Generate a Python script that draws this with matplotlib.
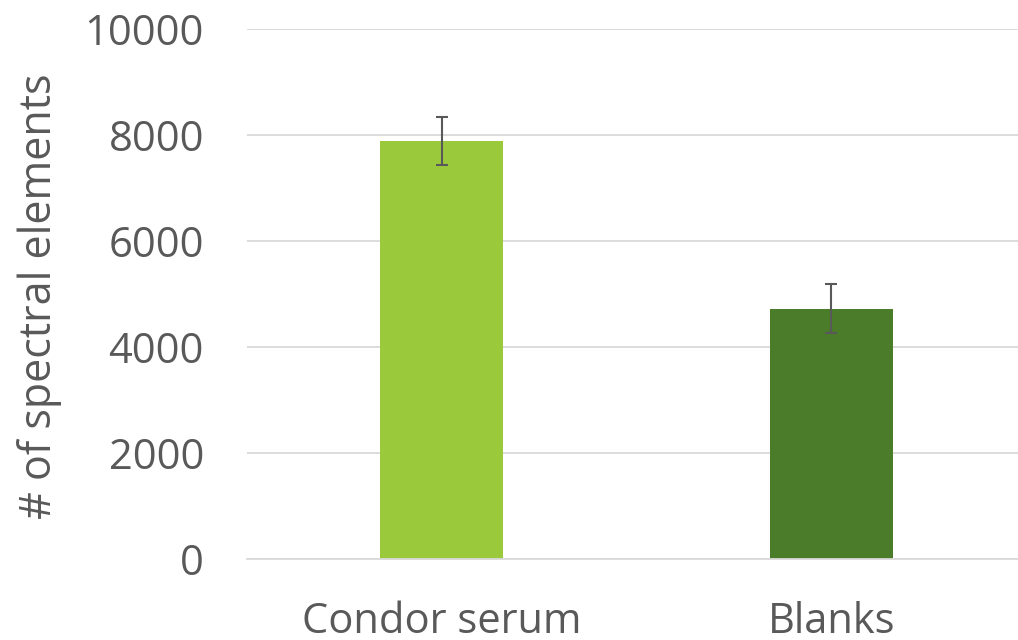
import matplotlib
matplotlib.use("Agg")
import matplotlib.pyplot as plt

categories = ["Condor serum", "Blanks"]
values = [7890, 4720]
errors = [455, 460]
colors = ["#9ACA3C", "#4A7C2A"]

plt.rcParams['font.family'] = ['Open Sans', 'DejaVu Sans']
text_color = "#595959"
grid_color = "#D9D9D9"

fig = plt.figure(figsize=(10.18, 6.4), dpi=100)
ax = fig.add_axes([247/1018, 81/640, 779/1018, 530/640])

x = list(range(len(categories)))
ax.bar(x, values, width=0.316, color=colors, zorder=2)
ax.errorbar(x, values, yerr=errors, fmt='none', ecolor="#595959",
            elinewidth=1.5, capsize=4.5, capthick=1.5, zorder=3)

ax.set_xlim(-0.5, 1.5)
ax.set_ylim(0, 10000)
ax.set_yticks(range(0, 10001, 2000))
ax.set_xticks(x)
ax.set_xticklabels(categories)
ax.yaxis.grid(True, color=grid_color, linewidth=1.3, zorder=0)
ax.set_axisbelow(True)

for s in ["top", "right", "left"]:
    ax.spines[s].set_visible(False)
ax.spines["bottom"].set_color(grid_color)
ax.spines["bottom"].set_linewidth(1.3)

ax.tick_params(axis='both', length=0, labelsize=30, labelcolor=text_color)
ax.tick_params(axis='y', pad=31)
ax.tick_params(axis='x', pad=30)

fig.text(40/1018, (640-296)/640, "# of spectral elements", rotation=90,
         ha='center', va='center', fontsize=31, color=text_color)

fig.savefig("out.png", dpi=100)
